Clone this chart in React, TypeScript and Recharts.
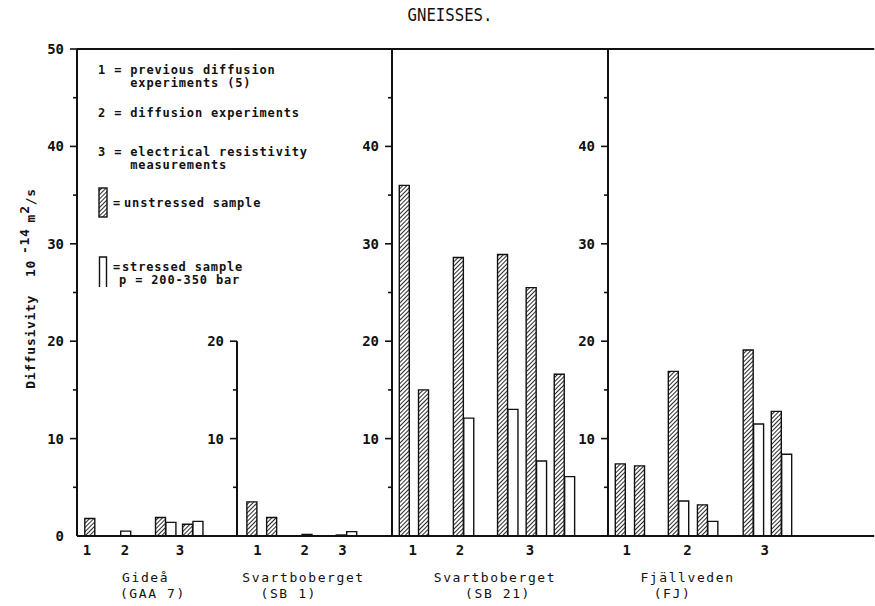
import React from 'react';
import { BarChart, Bar, XAxis, YAxis, Legend, ReferenceLine } from 'recharts';

const FONT = "'DejaVu Sans Mono', 'Liberation Mono', monospace";
const INK = '#111';

// Diffusivity in 10^-14 m^2/s. A slot is a bar centre, counted in bar widths
// from the left axis of its panel.
const gideaSlots = [1.25, 4.7, 8.05, 9.05, 10.65, 11.65];
const gideaUnstressed = [1.8, null, 1.9, null, 1.2, null];
const gideaStressed = [null, 0.5, null, 1.4, null, 1.5];

const sb1Slots = [1.45, 3.35, 6.75, 10.05, 11.05];
const sb1Unstressed = [3.5, 1.9, null, 0.1, null];
const sb1Stressed = [null, null, 0.15, null, 0.45];

const sb21Slots = [1.2, 3.05, 6.4, 7.4, 10.65, 11.65, 13.4, 14.4, 16.1, 17.1];
const sb21Unstressed = [36.0, 15.0, 28.6, null, 28.9, null, 25.5, null, 16.6, null];
const sb21Stressed = [null, null, null, 12.1, null, 13.0, null, 7.7, null, 6.1];

const fjSlots = [1.2, 3.05, 6.3, 7.3, 9.1, 10.1, 13.5, 14.5, 16.2, 17.2];
const fjUnstressed = [7.4, 7.2, 16.9, null, 3.2, null, 19.1, null, 12.8, null];
const fjStressed = [null, null, null, 3.6, null, 1.5, null, 11.5, null, 8.4];

// Method numbers under each panel
const methodLabels = ['1', '2', '3'];
const gideaMethodSlots = [0.95, 4.6, 9.9];
const sb1MethodSlots = [1.97, 6.52, 10.14];
const sb21MethodSlots = [2.0, 6.53, 13.26];
const fjMethodSlots = [1.79, 7.65, 15.06];

// Site names and sample codes
const siteNames = ['Gideå', 'Svartboberget', 'Svartboberget', 'Fjällveden'];
const siteCodes = ['(GAA 7)', '(SB 1)', '(SB 21)', '(FJ)'];
const siteNameSlots = [6.6, 6.4, 9.9, 7.65];
const siteCodeSlots = [7.3, 4.98, 10.2, 6.2];

// Legend notes
const methodNotes = [
  ['1', 'previous diffusion', 'experiments (5)'],
  ['2', 'diffusion experiments'],
  ['3', 'electrical resistivity', 'measurements'],
];
const seriesNames = { unstressed: 'unstressed sample', stressed: 'stressed sample' };
const pressureNote = 'p = 200-350 bar';

const TITLE = 'GNEISSES.';

// Layout
const PX_PER_SLOT = 10.4;
const PLOT_LEFT = 77;
const CHART_TOP = 39;
const CHART_HEIGHT = 567;
const MARGIN = { top: 10, right: 0, bottom: 0, left: 0 };
const TICK_SIZE = 7;
const TICK_GAP = 6;
const HATCH_STROKE = 1.8;

type Row = { slot: number; unstressed: number | null; stressed: number | null };

const rows = (slots: number[], u: (number | null)[], s: (number | null)[]): Row[] =>
  slots.map((slot, i) => ({ slot, unstressed: u[i], stressed: s[i] }));

const panels = [
  {
    id: 'gidea', span: 15.4, axisWidth: 77, data: rows(gideaSlots, gideaUnstressed, gideaStressed),
    methodSlots: gideaMethodSlots, yTicks: [0, 5, 10, 15, 20, 25, 30, 35, 40, 45, 50],
    yLabels: [0, 10, 20, 30, 40, 50], axisTop: 50, legend: true, yTitle: true,
  },
  {
    id: 'sb1', span: 14.9, axisWidth: 30, data: rows(sb1Slots, sb1Unstressed, sb1Stressed),
    methodSlots: sb1MethodSlots, yTicks: [5, 10, 15, 20], yLabels: [10, 20], axisTop: 20,
    legend: false, yTitle: false,
  },
  {
    id: 'sb21', span: 20.8, axisWidth: 30, data: rows(sb21Slots, sb21Unstressed, sb21Stressed),
    methodSlots: sb21MethodSlots, yTicks: [5, 10, 15, 20, 25, 30, 35, 40, 45],
    yLabels: [10, 20, 30, 40], axisTop: 50, legend: false, yTitle: false,
  },
  {
    id: 'fj', span: 25.6, axisWidth: 30, data: rows(fjSlots, fjUnstressed, fjStressed),
    methodSlots: fjMethodSlots, yTicks: [5, 10, 15, 20, 25, 30, 35, 40, 45],
    yLabels: [10, 20, 30, 40], axisTop: 50, legend: false, yTitle: false,
  },
];

function makeYTick(labelled: number[]) {
  return function YTick(props: any) {
    const { x, y, payload } = props;
    const v = payload.value;
    const axisX = x + TICK_SIZE + TICK_GAP;
    const len = v % 10 === 0 ? 7 : 4;
    return (
      <g>
        {v > 0 && <line x1={axisX - len} x2={axisX} y1={y} y2={y} stroke={INK} strokeWidth={1.6} />}
        {labelled.includes(v) && (
          <text x={x} y={y} dy="0.36em" textAnchor="end" fontFamily={FONT} fontSize={14} fontWeight={600} fill={INK}>
            {v}
          </text>
        )}
      </g>
    );
  };
}

function makeSiteTick(index: number) {
  return function SiteTick(props: any) {
    const { x, y, payload } = props;
    const isName = payload.value === siteNameSlots[index];
    return (
      <text
        x={x}
        y={y + (isName ? 16 : 32)}
        textAnchor="middle"
        fontFamily={FONT}
        fontSize={13}
        letterSpacing={1.6}
        fill={INK}
      >
        {isName ? siteNames[index] : siteCodes[index]}
      </text>
    );
  };
}

function renderYTitle(props: any) {
  const vb = props.viewBox;
  const cx = vb.x + 35;
  const cy = vb.y + vb.height / 2 - 4;
  return (
    <text
      transform={`rotate(-90 ${cx} ${cy})`}
      x={cx}
      y={cy}
      textAnchor="middle"
      fontFamily={FONT}
      fontSize={13}
      fontWeight={600}
      letterSpacing={0.7}
      fill={INK}
    >
      <tspan>Diffusivity</tspan>
      <tspan dx={18}>10</tspan>
      <tspan dx={6} dy={-6}>-14</tspan>
      <tspan dx={6} dy={6}>m</tspan>
      <tspan dy={-6}>2</tspan>
      <tspan dy={6}>/s</tspan>
    </text>
  );
}

function Swatch({ hatched }: { hatched: boolean }) {
  return (
    <svg width={11} height={31} style={{ position: 'absolute', left: 2, top: 0 }}>
      <defs>
        <pattern id="hatch-legend" width={3} height={3} patternUnits="userSpaceOnUse" patternTransform="rotate(45)">
          <line x1={0} y1={0} x2={0} y2={3} stroke={INK} strokeWidth={HATCH_STROKE} />
        </pattern>
      </defs>
      {hatched ? (
        <rect x={1} y={1} width={8} height={29} fill="url(#hatch-legend)" stroke={INK} strokeWidth={1.4} />
      ) : (
        <path d="M1.5 31 V1 H8.5 V31" fill="none" stroke={INK} strokeWidth={1.4} />
      )}
    </svg>
  );
}

function renderLegend(props: any) {
  const payload: any[] = props.payload || [];
  const text: React.CSSProperties = {
    position: 'absolute',
    whiteSpace: 'pre',
    lineHeight: '13px',
    fontFamily: FONT,
    fontSize: 12,
    fontWeight: 'bold',
    letterSpacing: 0.85,
    color: INK,
  };
  const noteTops = [3.5, 46.5, 85.5];
  const swatchTop = { unstressed: 127, stressed: 196 } as Record<string, number>;
  return (
    <div style={{ position: 'relative', width: 230, height: 240 }}>
      {methodNotes.map((note, i) => (
        <div key={note[0]} style={{ ...text, left: 2, top: noteTops[i] }}>
          {`${note[0]} = ${note[1]}`}
          {note[2] ? `\n    ${note[2]}` : ''}
        </div>
      ))}
      {payload.map((entry) => {
        const hatched = entry.dataKey === 'unstressed';
        return (
          <div
            key={entry.dataKey}
            style={{ position: 'absolute', left: 0, top: swatchTop[entry.dataKey], width: 220, height: 32 }}
          >
            <Swatch hatched={hatched} />
            <div style={{ ...text, left: 17, top: hatched ? 9.5 : 4.5 }}>=</div>
            <div style={{ ...text, left: hatched ? 28 : 26, top: hatched ? 9.5 : 4.5 }}>{entry.value}</div>
            {!hatched && <div style={{ ...text, left: 23, top: 17.5 }}>{pressureNote}</div>}
          </div>
        );
      })}
    </div>
  );
}

export default function App() {
  let left = PLOT_LEFT;
  return (
    <div
      style={{
        position: 'absolute',
        left: 0,
        top: 0,
        width: 875,
        height: 606,
        overflow: 'hidden',
        background: '#fff',
      }}
    >
      <div
        style={{
          position: 'absolute',
          left: 350,
          top: 6,
          width: 200,
          textAlign: 'center',
          fontFamily: FONT,
          fontSize: 18,
          lineHeight: '18px',
          color: INK,
          transform: 'scaleX(0.87)',
        }}
      >
        {TITLE}
      </div>
      {panels.map((p, index) => {
        const plotWidth = p.span * PX_PER_SLOT;
        const chartLeft = left - p.axisWidth;
        left += plotWidth;
        const hatchId = `hatch-${p.id}`;
        return (
          <div key={p.id} style={{ position: 'absolute', left: chartLeft, top: CHART_TOP }}>
            <BarChart
              width={p.axisWidth + plotWidth}
              height={CHART_HEIGHT}
              data={p.data}
              margin={MARGIN}
              barGap={0}
            >
              <defs>
                <pattern id={hatchId} width={3} height={3} patternUnits="userSpaceOnUse" patternTransform="rotate(45)">
                  <line x1={0} y1={0} x2={0} y2={3} stroke={INK} strokeWidth={HATCH_STROKE} />
                </pattern>
              </defs>
              <XAxis
                type="number"
                dataKey="slot"
                domain={[0, p.span]}
                allowDataOverflow
                ticks={p.methodSlots}
                interval={0}
                tickFormatter={(v: number) => methodLabels[p.methodSlots.indexOf(v)]}
                tick={{ fill: INK, fontSize: 14, fontFamily: FONT, fontWeight: 600 }}
                tickLine={false}
                tickSize={6}
                tickMargin={3}
                height={30}
                axisLine={{ stroke: INK, strokeWidth: 2 }}
              />
              <XAxis
                xAxisId="site"
                type="number"
                dataKey="slot"
                domain={[0, p.span]}
                allowDataOverflow
                ticks={[siteNameSlots[index], siteCodeSlots[index]]}
                interval={0}
                tick={makeSiteTick(index)}
                tickLine={false}
                axisLine={false}
                tickSize={0}
                tickMargin={0}
                height={40}
              />
              <YAxis
                type="number"
                domain={[0, 50]}
                allowDataOverflow
                ticks={p.yTicks}
                interval={0}
                width={p.axisWidth}
                tickSize={TICK_SIZE}
                tickMargin={TICK_GAP}
                tickLine={false}
                tick={makeYTick(p.yLabels)}
                axisLine={p.axisTop === 50 ? { stroke: INK, strokeWidth: 2 } : false}
                label={p.yTitle ? renderYTitle : undefined}
              />
              <ReferenceLine y={50} stroke={INK} strokeWidth={2} />
              {p.axisTop !== 50 && (
                <ReferenceLine
                  segment={[
                    { x: 0, y: 0 },
                    { x: 0, y: p.axisTop },
                  ]}
                  stroke={INK}
                  strokeWidth={2}
                />
              )}
              {p.legend && (
                <Legend
                  layout="vertical"
                  align="center"
                  verticalAlign="middle"
                  wrapperStyle={{ left: 96, top: 21, width: 230, height: 240 }}
                  content={renderLegend}
                />
              )}
              <Bar
                dataKey="unstressed"
                name={seriesNames.unstressed}
                stackId="s"
                barSize={10}
                fill={`url(#${hatchId})`}
                stroke={INK}
                strokeWidth={1.4}
                isAnimationActive={false}
              />
              <Bar
                dataKey="stressed"
                name={seriesNames.stressed}
                stackId="s"
                barSize={10}
                fill="#fff"
                stroke={INK}
                strokeWidth={1.4}
                isAnimationActive={false}
              />
            </BarChart>
          </div>
        );
      })}
    </div>
  );
}
